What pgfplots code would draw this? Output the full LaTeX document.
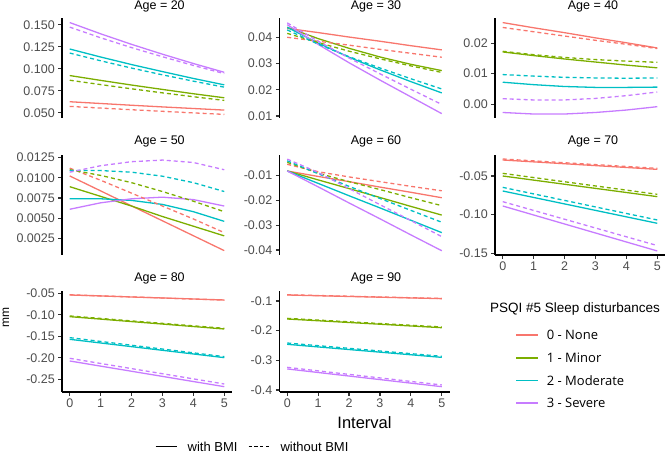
\documentclass[border=0pt]{standalone}
\usepackage{pgfplots}
\pgfplotsset{compat=1.18}
\usepackage{fontspec}
\setmainfont{Liberation Sans}
\newfontfamily\legfont{Open Sans}
\definecolor{psqiA}{HTML}{F8766D}
\definecolor{psqiB}{HTML}{7CAE00}
\definecolor{psqiC}{HTML}{00BFC4}
\definecolor{psqiD}{HTML}{C77CFF}
\definecolor{tickgray}{HTML}{4D4D4D}
\newcommand\ticksz{\fontsize{12.5}{14}\selectfont}
\newcommand\titlesz{\fontsize{12.5}{14}\selectfont}
\pgfplotsset{
  base/.style={scale only axis, width=170pt, anchor=north west, xmin=-0.25, xmax=5.25,
    axis line style={-, line width=1.3pt, black},
    tick align=outside, major tick length=3.7pt,
    scaled y ticks=false, scaled x ticks=false,
    every tick/.append style={line width=1.1pt, color=black!80},
    tick label style={font=\ticksz, text=tickgray},
  },
  top/.style={base, height=100pt, axis y line*=left, axis x line=none},
  bot/.style={base, axis y line*=left, axis x line*=bottom,
    xtick={0,1,2,3,4,5}, xticklabels={0,1,2,3,4,5}},
  sol/.style={line width=1.3pt},
  das/.style={line width=1.3pt, dash pattern=on 4pt off 3pt},
}
\begin{document}
\begin{tikzpicture}
\path[use as bounding box] (0,0) rectangle (666pt,454pt);

% ---------- Age 20
\begin{axis}[top, at={(62pt,436pt)}, ymin=0.0440, ymax=0.1578,
  ytick={0.05,0.075,0.1,0.125,0.15}, yticklabels={0.050,0.075,0.100,0.125,0.150}]
\addplot[color=psqiA,sol] coordinates {(0,0.0625)(1,0.0605)(2,0.0585)(3,0.0566)(4,0.0548)(5,0.0530)};
\addplot[color=psqiB,sol] coordinates {(0,0.0923)(1,0.0868)(2,0.0815)(3,0.0765)(4,0.0716)(5,0.0670)};
\addplot[color=psqiC,sol] coordinates {(0,0.1225)(1,0.1134)(2,0.1048)(3,0.0968)(4,0.0890)(5,0.0817)};
\addplot[color=psqiD,sol] coordinates {(0,0.1526)(1,0.1398)(2,0.1278)(3,0.1166)(4,0.1060)(5,0.0960)};
\addplot[color=psqiA,das] coordinates {(0,0.0572)(1,0.0553)(2,0.0534)(3,0.0516)(4,0.0498)(5,0.0481)};
\addplot[color=psqiB,das] coordinates {(0,0.0870)(1,0.0820)(2,0.0772)(3,0.0726)(4,0.0682)(5,0.0640)};
\addplot[color=psqiC,das] coordinates {(0,0.1179)(1,0.1091)(2,0.1008)(3,0.0931)(4,0.0859)(5,0.0791)};
\addplot[color=psqiD,das] coordinates {(0,0.1474)(1,0.1353)(2,0.1241)(3,0.1137)(4,0.1038)(5,0.0945)};
\end{axis}

% ---------- Age 30
\begin{axis}[top, at={(279.5pt,436pt)}, ymin=0.00924, ymax=0.04736,
  ytick={0.01,0.02,0.03,0.04}, yticklabels={0.01,0.02,0.03,0.04}]
\addplot[color=psqiA,sol] coordinates {(0,0.0434)(1,0.0418)(2,0.0401)(3,0.0385)(4,0.0368)(5,0.0352)};
\addplot[color=psqiB,sol] coordinates {(0,0.0438)(1,0.0395)(2,0.0358)(3,0.0325)(4,0.0297)(5,0.0273)};
\addplot[color=psqiC,sol] coordinates {(0,0.0438)(1,0.0378)(2,0.0324)(3,0.0276)(4,0.0231)(5,0.0188)};
\addplot[color=psqiD,sol] coordinates {(0,0.0448)(1,0.0373)(2,0.0303)(3,0.0237)(4,0.0173)(5,0.0109)};
\addplot[color=psqiA,das] coordinates {(0,0.0400)(1,0.0385)(2,0.0370)(3,0.0354)(4,0.0339)(5,0.0324)};
\addplot[color=psqiB,das] coordinates {(0,0.0415)(1,0.0380)(2,0.0347)(3,0.0318)(4,0.0291)(5,0.0266)};
\addplot[color=psqiC,das] coordinates {(0,0.0428)(1,0.0374)(2,0.0326)(3,0.0283)(4,0.0242)(5,0.0203)};
\addplot[color=psqiD,das] coordinates {(0,0.0455)(1,0.0385)(2,0.0321)(3,0.0261)(4,0.0202)(5,0.0144)};
\end{axis}

% ---------- Age 40
\begin{axis}[top, at={(495pt,436pt)}, ymin=-0.0045, ymax=0.0282,
  ytick={0,0.01,0.02}, yticklabels={0.00,0.01,0.02}]
\addplot[color=psqiA,sol] coordinates {(0,0.0267)(1,0.0250)(2,0.0234)(3,0.0217)(4,0.0201)(5,0.0184)};
\addplot[color=psqiB,sol] coordinates {(0,0.0171)(1,0.0159)(2,0.0148)(3,0.0138)(4,0.0128)(5,0.0119)};
\addplot[color=psqiC,sol] coordinates {(0,0.0072)(1,0.0064)(2,0.0058)(3,0.0055)(4,0.0055)(5,0.0056)};
\addplot[color=psqiD,sol] coordinates {(0,-0.0027)(1,-0.0032)(2,-0.0032)(3,-0.0027)(4,-0.0019)(5,-0.0008)};
\addplot[color=psqiA,das] coordinates {(0,0.0251)(1,0.0237)(2,0.0223)(3,0.0209)(4,0.0196)(5,0.0182)};
\addplot[color=psqiB,das] coordinates {(0,0.0173)(1,0.0162)(2,0.0153)(3,0.0146)(4,0.0141)(5,0.0137)};
\addplot[color=psqiC,das] coordinates {(0,0.0097)(1,0.0092)(2,0.0088)(3,0.0086)(4,0.0085)(5,0.0086)};
\addplot[color=psqiD,das] coordinates {(0,0.0018)(1,0.0014)(2,0.0014)(3,0.0019)(4,0.0028)(5,0.0040)};
\end{axis}

% ---------- Age 50
\begin{axis}[top, at={(62pt,299pt)}, ymin=0.00043, ymax=0.01283,
  ytick={0.0025,0.005,0.0075,0.01,0.0125}, yticklabels={0.0025,0.0050,0.0075,0.0100,0.0125}]
\addplot[color=psqiA,sol] coordinates {(0,0.01023)(1,0.00838)(2,0.00652)(3,0.00467)(4,0.00282)(5,0.00097)};
\addplot[color=psqiB,sol] coordinates {(0,0.0089)(1,0.0077)(2,0.0065)(3,0.0052)(4,0.0040)(5,0.0028)};
\addplot[color=psqiC,sol] coordinates {(0,0.0074)(1,0.0074)(2,0.0072)(3,0.0067)(4,0.0058)(5,0.0046)};
\addplot[color=psqiD,sol] coordinates {(0,0.0061)(1,0.0069)(2,0.0074)(3,0.0076)(4,0.0073)(5,0.0065)};
\addplot[color=psqiA,das] coordinates {(0,0.0112)(1,0.0097)(2,0.0081)(3,0.0065)(4,0.0049)(5,0.0032)};
\addplot[color=psqiB,das] coordinates {(0,0.0110)(1,0.0103)(2,0.0094)(3,0.0083)(4,0.0071)(5,0.0058)};
\addplot[color=psqiC,das] coordinates {(0,0.0109)(1,0.0109)(2,0.0107)(3,0.0102)(4,0.0094)(5,0.0083)};
\addplot[color=psqiD,das] coordinates {(0,0.0107)(1,0.0115)(2,0.0120)(3,0.0122)(4,0.0119)(5,0.0110)};
\end{axis}

% ---------- Age 60
\begin{axis}[top, at={(279.5pt,299pt)}, ymin=-0.04202, ymax=-0.00164,
  ytick={-0.04,-0.03,-0.02,-0.01}, yticklabels={-0.04,-0.03,-0.02,-0.01}]
\addplot[color=psqiA,sol] coordinates {(0,-0.0081)(1,-0.0103)(2,-0.0124)(3,-0.0146)(4,-0.0167)(5,-0.0189)};
\addplot[color=psqiB,sol] coordinates {(0,-0.0081)(1,-0.0117)(2,-0.0152)(3,-0.0188)(4,-0.0224)(5,-0.0259)};
\addplot[color=psqiC,sol] coordinates {(0,-0.0081)(1,-0.0131)(2,-0.0181)(3,-0.0230)(4,-0.0280)(5,-0.0330)};
\addplot[color=psqiD,sol] coordinates {(0,-0.0081)(1,-0.0145)(2,-0.0210)(3,-0.0274)(4,-0.0339)(5,-0.0403)};
\addplot[color=psqiA,das] coordinates {(0,-0.0054)(1,-0.0084)(2,-0.0105)(3,-0.0124)(4,-0.0143)(5,-0.0161)};
\addplot[color=psqiB,das] coordinates {(0,-0.0046)(1,-0.0090)(2,-0.0124)(3,-0.0156)(4,-0.0189)(5,-0.0221)};
\addplot[color=psqiC,das] coordinates {(0,-0.0040)(1,-0.0092)(2,-0.0143)(3,-0.0192)(4,-0.0240)(5,-0.0288)};
\addplot[color=psqiD,das] coordinates {(0,-0.0033)(1,-0.0087)(2,-0.0152)(3,-0.0217)(4,-0.0281)(5,-0.0346)};
\end{axis}

% ---------- Age 70
\begin{axis}[bot, height=100pt, at={(495pt,299pt)}, ymin=-0.1522, ymax=-0.02283,
  ytick={-0.15,-0.10,-0.05}, yticklabels={-0.15,-0.10,-0.05}]
\addplot[color=psqiA,sol] coordinates {(0,-0.0293)(5,-0.0414)};
\addplot[color=psqiB,sol] coordinates {(0,-0.0500)(5,-0.0767)};
\addplot[color=psqiC,sol] coordinates {(0,-0.0694)(5,-0.1112)};
\addplot[color=psqiD,sol] coordinates {(0,-0.0888)(5,-0.1470)};
\addplot[color=psqiA,das] coordinates {(0,-0.0280)(5,-0.0401)};
\addplot[color=psqiB,das] coordinates {(0,-0.0466)(5,-0.0737)};
\addplot[color=psqiC,das] coordinates {(0,-0.0647)(5,-0.1069)};
\addplot[color=psqiD,das] coordinates {(0,-0.0832)(5,-0.1400)};
\end{axis}

% ---------- Age 80
\begin{axis}[bot, height=101pt, at={(62pt,163pt)}, ymin=-0.2795, ymax=-0.04465,
  ytick={-0.25,-0.20,-0.15,-0.10,-0.05}, yticklabels={-0.25,-0.20,-0.15,-0.10,-0.05}]
\addplot[color=psqiA,sol] coordinates {(0,-0.0539)(5,-0.0655)};
\addplot[color=psqiB,sol] coordinates {(0,-0.1043)(5,-0.1330)};
\addplot[color=psqiC,sol] coordinates {(0,-0.1570)(5,-0.1996)};
\addplot[color=psqiD,sol] coordinates {(0,-0.2074)(5,-0.2671)};
\addplot[color=psqiA,das] coordinates {(0,-0.0535)(5,-0.0660)};
\addplot[color=psqiB,das] coordinates {(0,-0.1027)(5,-0.1314)};
\addplot[color=psqiC,das] coordinates {(0,-0.1531)(5,-0.1973)};
\addplot[color=psqiD,das] coordinates {(0,-0.2012)(5,-0.2609)};
\end{axis}

% ---------- Age 90
\begin{axis}[bot, height=101pt, at={(279.5pt,163pt)}, ymin=-0.4067, ymax=-0.0663,
  ytick={-0.4,-0.3,-0.2,-0.1}, yticklabels={-0.4,-0.3,-0.2,-0.1}]
\addplot[color=psqiA,sol] coordinates {(0,-0.0798)(5,-0.0921)};
\addplot[color=psqiB,sol] coordinates {(0,-0.1607)(5,-0.1900)};
\addplot[color=psqiC,sol] coordinates {(0,-0.2460)(5,-0.2900)};
\addplot[color=psqiD,sol] coordinates {(0,-0.3290)(5,-0.3888)};
\addplot[color=psqiA,das] coordinates {(0,-0.0790)(5,-0.0915)};
\addplot[color=psqiB,das] coordinates {(0,-0.1585)(5,-0.1876)};
\addplot[color=psqiC,das] coordinates {(0,-0.2416)(5,-0.2865)};
\addplot[color=psqiD,das] coordinates {(0,-0.3236)(5,-0.3830)};
\end{axis}

% ---------- colour legend
\begin{axis}[hide axis, scale only axis, at={(0pt,0pt)}, anchor=south west,
  width=666pt, height=454pt, xmin=0, xmax=1, ymin=0, ymax=1,
  legend style={at={(0.77327,0.27236)}, anchor=north west, draw=none, fill=none,
    inner sep=0pt, row sep=13.3pt, column sep=8pt,
    nodes={inner sep=0pt, text height=9.3pt, text depth=0pt, font=\legfont\fontsize{13}{15}\selectfont},
    cells={anchor=west}},
  legend cell align=left,
  legend image code/.code={\draw[#1] (0pt,0pt) -- (22pt,0pt);}]
\addlegendimage{color=psqiA, line width=1.6pt}\addlegendentry{0 - None}
\addlegendimage{color=psqiB, line width=1.6pt}\addlegendentry{1 - Minor}
\addlegendimage{color=psqiC, line width=1.6pt}\addlegendentry{2 - Moderate}
\addlegendimage{color=psqiD, line width=1.6pt}\addlegendentry{3 - Severe}
\end{axis}

% ---------- linetype legend
\begin{axis}[hide axis, scale only axis, at={(0pt,0pt)}, anchor=south west,
  width=666pt, height=454pt, xmin=0, xmax=1, ymin=0, ymax=1,
  legend columns=2,
  legend style={at={(0.23273,0.0265)}, anchor=north west, draw=none, fill=none,
    inner sep=0pt, column sep=10.5pt,
    nodes={inner sep=0pt, text height=9.3pt, text depth=0pt, font=\fontsize{13}{15}\selectfont},
    cells={anchor=west}},
  legend cell align=left,
  legend image code/.code={\draw[#1] (0pt,0pt) -- (21pt,0pt);}]
\addlegendimage{color=black, line width=1pt}\addlegendentry{with BMI}
\addlegendimage{color=black, line width=1pt, dash pattern=on 3.3pt off 2.5pt}\addlegendentry{without BMI}
\end{axis}

% ---------- titles and labels
\node[font=\titlesz, anchor=base] at (159.5pt,444pt) {Age = 20};
\node[font=\titlesz, anchor=base] at (376pt,444pt) {Age = 30};
\node[font=\titlesz, anchor=base] at (593pt,444pt) {Age = 40};
\node[font=\titlesz, anchor=base] at (159.5pt,309pt) {Age = 50};
\node[font=\titlesz, anchor=base] at (376pt,309pt) {Age = 60};
\node[font=\titlesz, anchor=base] at (593pt,309pt) {Age = 70};
\node[font=\titlesz, anchor=base] at (159.5pt,172pt) {Age = 80};
\node[font=\titlesz, anchor=base] at (376pt,172pt) {Age = 90};
\node[font=\fontsize{16.5}{18}\selectfont, anchor=base] at (364.5pt,25pt) {Interval};
\node[font=\fontsize{12}{14}\selectfont, rotate=90, anchor=base, inner sep=0pt] at (9pt,136pt) {mm};
\node[font=\fontsize{13.5}{15}\selectfont, anchor=base west, inner sep=0pt] at (490pt,141pt) {PSQI \#5 Sleep disturbances};
\end{tikzpicture}
\end{document}
